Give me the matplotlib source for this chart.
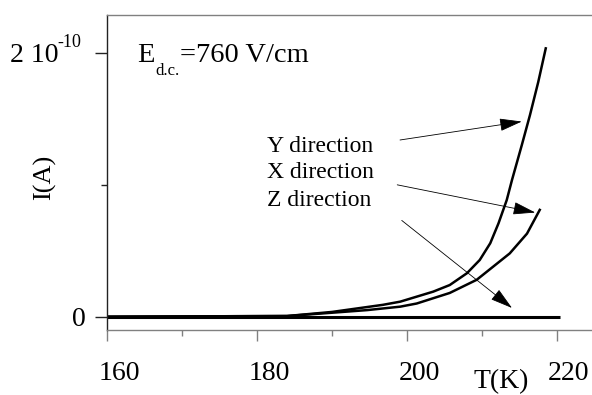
import numpy as np
import matplotlib
matplotlib.use("Agg")
import matplotlib.pyplot as plt
import matplotlib.transforms as mtransforms

plt.rcParams["font.family"] = ["Liberation Serif", "DejaVu Serif"]

# datos (corriente en unidades de 1e-10 A)
T_y = [160, 184, 190, 196.8, 199.1, 203.5, 205.7, 208, 209.7, 211.1, 212.2, 213.3, 214.0, 215.3, 216.4, 217.5, 218.5]
I_y = [0, 0.005, 0.036, 0.09, 0.114, 0.19, 0.24, 0.33, 0.43, 0.557, 0.708, 0.885, 1.037, 1.3, 1.53, 1.78, 2.035]
T_x = [160, 184, 190, 194.7, 199.1, 201.3, 205.7, 209.3, 211.5, 213.7, 216.0, 217.7]
I_x = [0, 0.005, 0.03, 0.05, 0.076, 0.10, 0.18, 0.28, 0.38, 0.48, 0.63, 0.81]
T_z = [160, 170, 180, 190, 200, 210, 220.4]
I_z = [0, 0, 0, 0, 0, 0, 0]

escala = 1e-10
x_ticks = [160, 180, 200, 220]
x_minor = [170, 190, 210]

fig = plt.figure(figsize=(5.92, 3.95), dpi=100)
ax = fig.add_axes([107/592, 65/395, 485/592, 315/395])

ax.plot(T_z, np.array(I_z)*escala, color="black", lw=2.2, solid_capstyle="butt")
ax.plot(T_y, np.array(I_y)*escala, color="black", lw=1.8)
ax.plot(T_x, np.array(I_x)*escala, color="black", lw=1.8)

ax.set_xlim(160, 160 + 485/7.5)
ax.set_ylim(-0.101e-10, 2.288e-10)

ax.spines["right"].set_visible(False)
ax.spines["top"].set_color("#808080")
ax.spines["bottom"].set_color("#808080")
ax.spines["left"].set_color("#222222")
for s in ax.spines.values():
    s.set_linewidth(1.0)

ax.set_xticks(x_ticks)
ax.set_xticks(x_minor, minor=True)
ax.set_xticklabels([str(t) for t in x_ticks], fontsize=20)
ax.tick_params(axis="x", which="major", length=8, width=1, color="#808080", pad=14)
ax.tick_params(axis="x", which="minor", length=4, width=1, color="#808080")
off = mtransforms.ScaledTranslation(12/100, 0, fig.dpi_scale_trans)
for lab in ax.get_xticklabels():
    lab.set_transform(lab.get_transform() + off)

ax.set_yticks([0, 2e-10])
ax.set_yticks([1e-10], minor=True)
ax.set_yticklabels(["0", ""], fontsize=20)
ax.tick_params(axis="y", which="major", length=8.5, width=1, color="#222222", pad=7)
ax.tick_params(axis="y", which="minor", length=4.5, width=1, color="#222222")

# etiqueta 2 10^-10
fig.text(10/592, 1 - 62/395, "2 10", fontsize=20, ha="left", va="baseline")
fig.text(57/592, 1 - 47/395, "-10", fontsize=13, ha="left", va="baseline")

fig.text(45/592, 1 - 177/395, "I(A)", fontsize=19, rotation=90, ha="center", va="center")
fig.text(501/592, 1 - 369/395, "T(K)", fontsize=20, ha="center", va="top")

# campo aplicado
fig.text(137/592, 1 - 62/395, "E", fontsize=20.5, ha="left", va="baseline")
fig.text(155/592, 1 - 75/395, "d.c.", fontsize=12, ha="left", va="baseline")
fig.text(180/592, 1 - 62/395, "=760 V/cm", fontsize=20.5, ha="left", va="baseline")

flecha = dict(arrowstyle="-|>,head_length=1.4,head_width=0.4", color="black", lw=0.6,
              shrinkA=0, shrinkB=0)
ax.text(181.3, 1.29e-10, "Y direction", fontsize=17, va="center", ha="left")
ax.text(181.3, 1.09e-10, "X direction", fontsize=17, va="center", ha="left")
ax.text(181.3, 0.88e-10, "Z direction", fontsize=17, va="center", ha="left")
ax.annotate("", xy=(215.3, 1.48e-10), xytext=(199.07, 1.34e-10), arrowprops=flecha)
ax.annotate("", xy=(217.1, 0.79e-10), xytext=(198.7, 1.0e-10), arrowprops=flecha)
ax.annotate("", xy=(214.0, 0.066e-10), xytext=(199.3, 0.73e-10), arrowprops=flecha)

fig.savefig("out.png", dpi=100)
